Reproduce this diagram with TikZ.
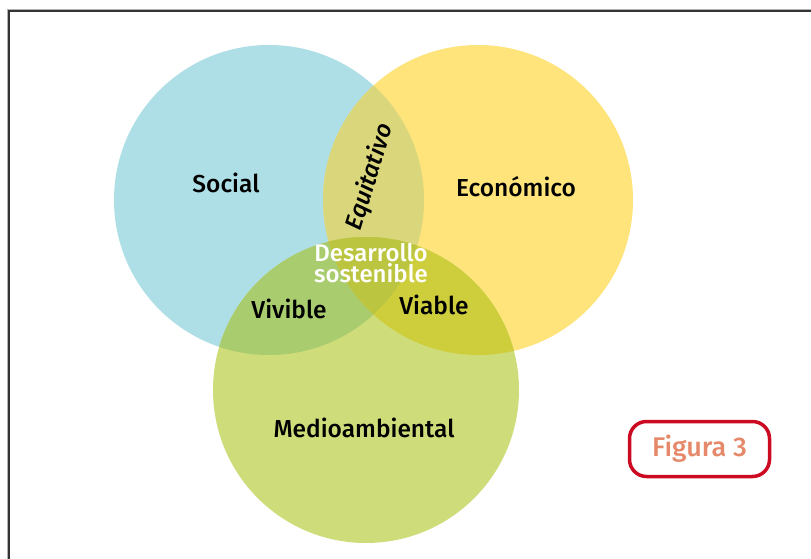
\documentclass[tikz,border=0pt]{standalone}
\usepackage{fontspec}
\setmainfont{Fira Sans}[BoldFont={Fira Sans Medium},ItalicFont={Fira Sans Italic},BoldItalicFont={Fira Sans Medium Italic}]
\definecolor{cblue}{HTML}{AEDEE6}
\definecolor{cyellow}{HTML}{FEE47B}
\definecolor{cgreen}{HTML}{CEDC79}
\definecolor{cby}{HTML}{D9D67B}
\definecolor{cbg}{HTML}{A9CC6F}
\definecolor{cyg}{HTML}{CECE3D}
\definecolor{call}{HTML}{BCC540}
\definecolor{cframe}{HTML}{333333}
\definecolor{cred}{HTML}{CC0A22}
\definecolor{csalmon}{HTML}{E5896A}
\tikzset{
  lbl/.style={font=\bfseries\fontsize{24.5}{26}\selectfont, text=black, inner sep=0pt},
  wlbl/.style={font=\bfseries\fontsize{24}{20.5}\selectfont, text=white, inner sep=0pt, align=center},
  figbox/.style={draw=cred, line width=3.5pt, rounded corners=17pt, minimum width=140pt, minimum height=55pt, text=csalmon, font=\bfseries\fontsize{27}{29}\selectfont}
}
\begin{document}
\begin{tikzpicture}[x=1pt,y=-1pt]
\useasboundingbox (0,0) rectangle (811,559);
\fill[white] (0,0) rectangle (811,559);
% frame
\draw[gray!60, line width=0.8pt] (7,559) -- (7,9) -- (811,9);
\draw[cframe, line width=2pt] (8.8,559) -- (8.8,10.8) -- (811,10.8);
% circles
\def\circA{(269,200) circle (155)}
\def\circB{(478,200) circle (155)}
\def\circC{(366,390) circle (153)}
\fill[cblue] \circA;
\fill[cyellow] \circB;
\fill[cgreen] \circC;
\begin{scope}
  \clip \circA;
  \fill[cby] \circB;
  \fill[cbg] \circC;
\end{scope}
\begin{scope}
  \clip \circB;
  \fill[cyg] \circC;
  \clip \circA;
  \fill[call] \circC;
\end{scope}
% labels
\node[lbl] (social) at (226,183) {Social};
\node[lbl] (econ) at (516,187) {Económico};
\node[lbl] (medio) at (364,428) {Medioambiental};
\node[lbl] (vivible) at (289,309) {Vivible};
\node[lbl] (viable) at (434,305) {Viable};
\node[wlbl] (ds) at (371,263) {Desarrollo\\sostenible};
\node[lbl, font=\itshape\bfseries\fontsize{24}{26}\selectfont, rotate=73] (equi) at (370,177) {Equitativo};
\node[figbox] (fig) at (699.5,449) {Figura 3};
\end{tikzpicture}
\end{document}
